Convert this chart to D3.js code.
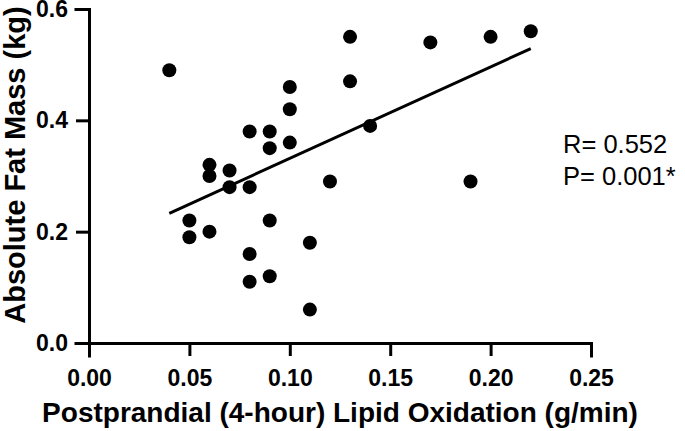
<!DOCTYPE html>
<html>
<head>
<meta charset="utf-8">
<script src="https://cdn.jsdelivr.net/npm/d3@7"></script>
<style>
  html, body { margin: 0; padding: 0; background: #fff; }
  svg { display: block; }
</style>
</head>
<body>
<div id="chart"></div>
<script>
// Data
const lipidOxidation = [0.04, 0.05, 0.05, 0.06, 0.06, 0.06, 0.07, 0.07, 0.08, 0.08, 0.08, 0.08,
  0.09, 0.09, 0.09, 0.09, 0.10, 0.10, 0.10, 0.11, 0.11, 0.12, 0.13, 0.13, 0.14, 0.17, 0.19, 0.20, 0.22];
const fatMass = [0.49, 0.22, 0.19, 0.32, 0.30, 0.20, 0.31, 0.28, 0.38, 0.28, 0.16, 0.11,
  0.38, 0.35, 0.22, 0.12, 0.46, 0.42, 0.36, 0.18, 0.06, 0.29, 0.55, 0.47, 0.39, 0.54, 0.29, 0.55, 0.56];
const xTicks = [0.00, 0.05, 0.10, 0.15, 0.20, 0.25];
const yTicks = [0.0, 0.2, 0.4, 0.6];
// Fitted line as drawn in the reference
const fitSlope = 1.644;
const fitIntercept = 0.1672;
const xTitle = "Postprandial (4-hour) Lipid Oxidation (g/min)";
const yTitle = "Absolute Fat Mass (kg)";
const statLines = ["R= 0.552", "P= 0.001*"];

const W = 685, H = 431;
const m = { left: 89, right: 94, top: 9, bottom: 88 };

const svg = d3.select("#chart").append("svg").attr("width", W).attr("height", H);

const x = d3.scaleLinear().domain([0, 0.25]).range([m.left, W - m.right]);
const y = d3.scaleLinear().domain([0, 0.6]).range([H - m.bottom, m.top]);

const font = "Arial, 'Liberation Sans', Helvetica, sans-serif";

// Axes
const xAxis = svg.append("g")
  .attr("transform", `translate(0,${H - m.bottom})`)
  .call(d3.axisBottom(x).tickValues(xTicks).tickFormat(d3.format(".2f")).tickSizeOuter(0).tickSize(13).tickPadding(14));
const yAxis = svg.append("g")
  .attr("transform", `translate(${m.left},0)`)
  .call(d3.axisLeft(y).tickValues(yTicks).tickFormat(d3.format(".1f")).tickSizeOuter(0).tickSize(13).tickPadding(8));

[xAxis, yAxis].forEach(g => {
  g.select(".domain").attr("stroke", "#000").attr("stroke-width", 3).attr("stroke-linecap", "square");
  g.selectAll(".tick line").attr("stroke", "#000").attr("stroke-width", 3);
  g.selectAll(".tick text").attr("fill", "#000").style("font-family", font)
    .style("font-size", "23px").style("font-weight", "bold");
});

// Regression line over the data's x range
const x0 = d3.min(lipidOxidation), x1 = d3.max(lipidOxidation);
svg.append("line")
  .attr("x1", x(x0)).attr("y1", y(fitIntercept + fitSlope * x0))
  .attr("x2", x(x1)).attr("y2", y(fitIntercept + fitSlope * x1))
  .attr("stroke", "#000").attr("stroke-width", 3);

// Points
svg.append("g").selectAll("circle")
  .data(lipidOxidation.map((v, i) => [v, fatMass[i]]))
  .join("circle")
  .attr("cx", d => x(d[0]))
  .attr("cy", d => y(d[1]))
  .attr("r", 7)
  .attr("fill", "#000");

// Axis titles
svg.append("text")
  .attr("x", (m.left + W - m.right) / 2).attr("y", 422)
  .attr("text-anchor", "middle")
  .style("font-family", font).style("font-size", "28px").style("font-weight", "bold")
  .text(xTitle);

svg.append("text")
  .attr("transform", `translate(24.5,165) rotate(-90)`)
  .attr("text-anchor", "middle")
  .style("font-family", font).style("font-size", "29px").style("font-weight", "bold")
  .text(yTitle);

// Stats
svg.append("g").selectAll("text")
  .data(statLines)
  .join("text")
  .attr("x", 563)
  .attr("y", (d, i) => 153 + i * 32)
  .style("font-family", font).style("font-size", "25.5px")
  .attr("fill", "#000")
  .text(d => d);
</script>
</body>
</html>
